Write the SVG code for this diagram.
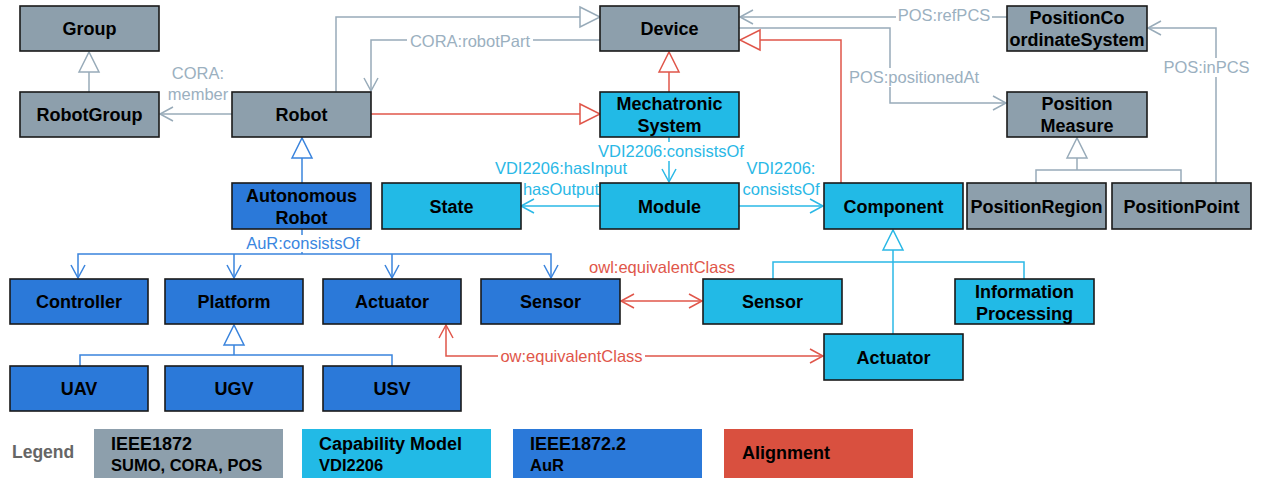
<svg xmlns="http://www.w3.org/2000/svg" width="1261" height="478" viewBox="0 0 1261 478">
<style>
.n rect{stroke:#1a1a1a;stroke-width:1.6}
.g rect{fill:#8d9fac}
.c rect{fill:#22bae6}
.b rect{fill:#2b79d9}
.n text{font-family:"Liberation Sans",Arial,sans-serif;font-weight:bold;font-size:18px;fill:#000;text-anchor:middle}
.e{fill:none;stroke-width:1.5}
.eg{stroke:#98abb9}
.er{stroke:#e0564a}
.eb{stroke:#3a84dd}
.ec{stroke:#2ab8e6}
.lbl{font-family:"Liberation Sans",Arial,sans-serif;font-size:16.5px;text-anchor:middle}
.lg{fill:#9bb0bf}
.lr{fill:#e0564a}
.lb{fill:#3a86e0}
.lc{fill:#2ab8e6}
.bg{fill:#fff}
.leg text{font-family:"Liberation Sans",Arial,sans-serif;font-weight:bold;fill:#000}
</style>
<defs>
<marker id="tg" markerUnits="userSpaceOnUse" markerWidth="20" markerHeight="20" refX="20" refY="10" orient="auto" overflow="visible"><path d="M0,0 L20,10 L0,20 Z" fill="#fff" stroke="#98abb9" stroke-width="1.5"/></marker>
<marker id="tr" markerUnits="userSpaceOnUse" markerWidth="20" markerHeight="20" refX="20" refY="10" orient="auto" overflow="visible"><path d="M0,0 L20,10 L0,20 Z" fill="#fff" stroke="#e0564a" stroke-width="1.5"/></marker>
<marker id="tb" markerUnits="userSpaceOnUse" markerWidth="20" markerHeight="20" refX="20" refY="10" orient="auto" overflow="visible"><path d="M0,0 L20,10 L0,20 Z" fill="#fff" stroke="#3a84dd" stroke-width="1.5"/></marker>
<marker id="tc" markerUnits="userSpaceOnUse" markerWidth="20" markerHeight="20" refX="20" refY="10" orient="auto" overflow="visible"><path d="M0,0 L20,10 L0,20 Z" fill="#fff" stroke="#2ab8e6" stroke-width="1.5"/></marker>
<marker id="og" markerUnits="userSpaceOnUse" markerWidth="14" markerHeight="14" refX="13" refY="7" orient="auto-start-reverse" overflow="visible"><path d="M0,0 L13,7 L0,14" fill="none" stroke="#98abb9" stroke-width="1.5"/></marker>
<marker id="or" markerUnits="userSpaceOnUse" markerWidth="14" markerHeight="14" refX="13" refY="7" orient="auto-start-reverse" overflow="visible"><path d="M0,0 L13,7 L0,14" fill="none" stroke="#e0564a" stroke-width="1.5"/></marker>
<marker id="ob" markerUnits="userSpaceOnUse" markerWidth="14" markerHeight="14" refX="13" refY="7" orient="auto-start-reverse" overflow="visible"><path d="M0,0 L13,7 L0,14" fill="none" stroke="#3a84dd" stroke-width="1.5"/></marker>
<marker id="oc" markerUnits="userSpaceOnUse" markerWidth="14" markerHeight="14" refX="13" refY="7" orient="auto-start-reverse" overflow="visible"><path d="M0,0 L13,7 L0,14" fill="none" stroke="#2ab8e6" stroke-width="1.5"/></marker>
</defs>
<rect width="1261" height="478" fill="#fff"/>

<g id="connectors">
<path class="e eg" d="M89,92 V52" marker-end="url(#tg)"/>
<path class="e eg" d="M232,114 H160" marker-end="url(#og)"/>
<path class="e eg" d="M336,92 V17 H600" marker-end="url(#tg)"/>
<path class="e eg" d="M600,40 H371 V91" marker-end="url(#og)"/>
<path class="e er" d="M371,114 H600" marker-end="url(#tr)"/>
<path class="e er" d="M669,92 V52" marker-end="url(#tr)"/>
<path class="e ec" d="M669,137 V182" marker-end="url(#oc)"/>
<path class="e ec" d="M600,206 H521" marker-end="url(#oc)"/>
<path class="e ec" d="M739,206 H823" marker-end="url(#oc)"/>
<path class="e eg" d="M1007,17 H740" marker-end="url(#og)"/>
<path class="e eg" d="M739,28 H890 V103 H1006" marker-end="url(#og)"/>
<path class="e er" d="M841,183 V40 H740" marker-end="url(#tr)"/>
<path class="e eg" d="M1216,183 V28 H1148" marker-end="url(#og)"/>
<path class="e eg" d="M1077,170 V138" marker-end="url(#tg)"/>
<path class="e eg" d="M1036,183 V170 H1181 V183"/>
<path class="e eb" d="M302,183 V138" marker-end="url(#tb)"/>
<path class="e eb" d="M302,229 V254"/>
<path class="e eb" d="M78,278 V254 H551 V278" marker-end="url(#ob)" marker-start="url(#ob)"/>
<path class="e eb" d="M234,254 V278" marker-end="url(#ob)"/>
<path class="e eb" d="M392,254 V278" marker-end="url(#ob)"/>
<path class="e eb" d="M234,355 V325" marker-end="url(#tb)"/>
<path class="e eb" d="M80,366 V355 H392 V366"/>
<path class="e er" d="M621,301 H702" marker-start="url(#or)" marker-end="url(#or)"/>
<path class="e er" d="M446,325 V356 H823" marker-start="url(#or)" marker-end="url(#or)"/>
<path class="e ec" d="M893,334 V230" marker-end="url(#tc)"/>
<path class="e ec" d="M773,279 V262 H1024 V279"/>

<rect class="bg" x="407" y="33" width="126" height="17"/>
<text class="lbl lg" x="470" y="46.5">CORA:robotPart</text>
<text class="lbl lg" x="198" y="79">CORA:</text>
<text class="lbl lg" x="198" y="100">member</text>
<rect class="bg" x="896" y="7" width="96" height="17"/>
<text class="lbl lg" x="944" y="20.5">POS:refPCS</text>
<rect class="bg" x="847" y="68" width="134" height="19"/>
<text class="lbl lg" x="914" y="83">POS:positionedAt</text>
<rect class="bg" x="1162" y="58" width="89" height="19"/>
<text class="lbl lg" x="1206.5" y="73">POS:inPCS</text>
<rect class="bg" x="597" y="142" width="148" height="19"/>
<text class="lbl lc" x="671" y="156.5">VDI2206:consistsOf</text>
<text class="lbl lc" x="561" y="174">VDI2206:hasInput</text>
<text class="lbl lc" x="561" y="195">hasOutput</text>
<text class="lbl lc" x="781" y="174">VDI2206:</text>
<text class="lbl lc" x="781" y="194.5">consistsOf</text>
<rect class="bg" x="244" y="235" width="118" height="17"/>
<text class="lbl lb" x="303" y="249">AuR:consistsOf</text>
<text class="lbl lr" x="662" y="273">owl:equivalentClass</text>
<rect class="bg" x="498" y="348" width="147" height="18"/>
<text class="lbl lr" x="571.5" y="362">ow:equivalentClass</text>
</g>

<g id="Group" class="n g"><rect x="20" y="6" width="139" height="45"/><text x="89.5" y="35">Group</text></g>
<g id="RobotGroup" class="n g"><rect x="20" y="92" width="139" height="45"/><text x="89.5" y="121">RobotGroup</text></g>
<g id="Robot" class="n g"><rect x="232" y="92" width="139" height="45"/><text x="301.5" y="121">Robot</text></g>
<g id="Device" class="n g"><rect x="600" y="6" width="139" height="45"/><text x="669.5" y="35">Device</text></g>
<g id="MechatronicSystem" class="n c"><rect x="600" y="92" width="139" height="45"/><text x="669.5" y="110">Mechatronic</text><text x="669.5" y="132">System</text></g>
<g id="PositionCoordinateSystem" class="n g"><rect x="1007" y="6" width="140" height="45"/><text x="1077" y="24">PositionCo</text><text x="1077" y="46">ordinateSystem</text></g>
<g id="PositionMeasure" class="n g"><rect x="1007" y="92" width="140" height="45"/><text x="1077" y="110">Position</text><text x="1077" y="132">Measure</text></g>
<g id="AutonomousRobot" class="n b"><rect x="232" y="183" width="139" height="46"/><text x="301.5" y="202">Autonomous</text><text x="301.5" y="224">Robot</text></g>
<g id="State" class="n c"><rect x="382" y="183" width="139" height="46"/><text x="451.5" y="212.5">State</text></g>
<g id="Module" class="n c"><rect x="600" y="183" width="139" height="46"/><text x="669.5" y="212.5">Module</text></g>
<g id="Component" class="n c"><rect x="824" y="183" width="139" height="46"/><text x="893.5" y="212.5">Component</text></g>
<g id="PositionRegion" class="n g"><rect x="967" y="183" width="139" height="46"/><text x="1036.5" y="212.5">PositionRegion</text></g>
<g id="PositionPoint" class="n g"><rect x="1112" y="183" width="139" height="46"/><text x="1181.5" y="212.5">PositionPoint</text></g>
<g id="Controller" class="n b"><rect x="10" y="279" width="138" height="45"/><text x="79" y="308">Controller</text></g>
<g id="Platform" class="n b"><rect x="165" y="279" width="138" height="45"/><text x="234" y="308">Platform</text></g>
<g id="ActuatorAuR" class="n b"><rect x="323" y="279" width="138" height="45"/><text x="392" y="308">Actuator</text></g>
<g id="SensorAuR" class="n b"><rect x="481" y="279" width="139" height="45"/><text x="550.5" y="308">Sensor</text></g>
<g id="SensorVDI" class="n c"><rect x="703" y="279" width="139" height="45"/><text x="772.5" y="308">Sensor</text></g>
<g id="InformationProcessing" class="n c"><rect x="955" y="279" width="139" height="45"/><text x="1024.5" y="298">Information</text><text x="1024.5" y="320">Processing</text></g>
<g id="ActuatorVDI" class="n c"><rect x="824" y="334" width="139" height="46"/><text x="893.5" y="363.5">Actuator</text></g>
<g id="UAV" class="n b"><rect x="10" y="366" width="138" height="45"/><text x="79" y="395">UAV</text></g>
<g id="UGV" class="n b"><rect x="165" y="366" width="138" height="45"/><text x="234" y="395">UGV</text></g>
<g id="USV" class="n b"><rect x="323" y="366" width="138" height="45"/><text x="392" y="395">USV</text></g>

<g id="legend" class="leg">
<text x="12" y="458" font-size="17.5" style="fill:#666">Legend</text>
<rect x="94" y="429" width="189" height="49" fill="#8d9fac"/>
<text x="111" y="450" font-size="18">IEEE1872</text>
<text x="111" y="471" font-size="16.5">SUMO, CORA, POS</text>
<rect x="302" y="429" width="189" height="49" fill="#22bae6"/>
<text x="319" y="450" font-size="18">Capability Model</text>
<text x="319" y="471" font-size="16.5">VDI2206</text>
<rect x="513" y="429" width="189" height="49" fill="#2b79d9"/>
<text x="530" y="450" font-size="18">IEEE1872.2</text>
<text x="530" y="471" font-size="16.5">AuR</text>
<rect x="724" y="429" width="189" height="49" fill="#d9503f"/>
<text x="742" y="459" font-size="18">Alignment</text>
</g>
</svg>
